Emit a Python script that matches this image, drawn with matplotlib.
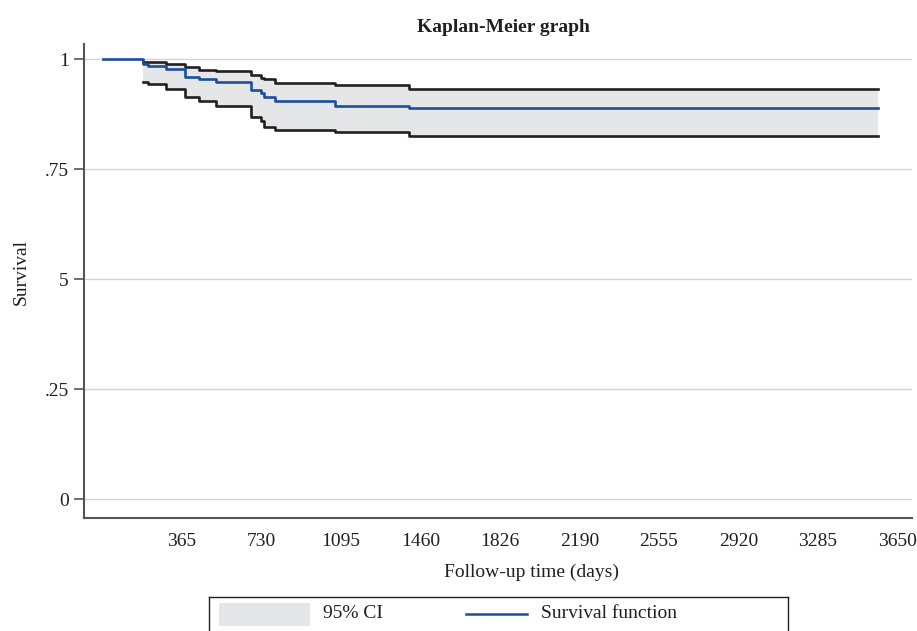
import numpy as np
import matplotlib
matplotlib.use("Agg")
from matplotlib import pyplot as plt
from matplotlib.patches import Rectangle
from matplotlib.lines import Line2D

# Kaplan-Meier estimate (days, survival after each step)
times = [0, 185, 210, 292, 379, 443, 521, 681, 727, 742, 792, 1068, 1409, 3562]
survival = [1.0, 0.989, 0.985, 0.978, 0.959, 0.955, 0.949, 0.930, 0.923, 0.914, 0.906, 0.895, 0.890, 0.890]
ci_times = [185, 210, 292, 379, 443, 521, 681, 727, 742, 792, 1068, 1409, 3562]
ci_upper = [0.995, 0.995, 0.989, 0.983, 0.977, 0.973, 0.964, 0.958, 0.955, 0.947, 0.942, 0.932, 0.932]
ci_lower = [0.949, 0.943, 0.932, 0.915, 0.906, 0.895, 0.868, 0.860, 0.846, 0.839, 0.835, 0.826, 0.826]

xticks = [365, 730, 1095, 1460, 1826, 2190, 2555, 2920, 3285, 3650]
yticks = [0, 0.25, 0.5, 0.75, 1]
ytick_labels = ["0", ".25", "5", ".75", "1"]

blue = "#1a4f9e"
ci_fill = "#e5e6e8"
dark = "#231f20"

plt.rcParams["font.family"] = ["Liberation Serif", "DejaVu Serif"]

fig = plt.figure(figsize=(9.17, 6.31), dpi=100)
W, H = 917, 631
ax = fig.add_axes([84 / W, 1 - 518 / H, 828 / W, 474 / H])

ax.fill_between(ci_times, ci_lower, ci_upper, step="post", color=ci_fill, lw=0, zorder=1)
ax.step(ci_times, ci_upper, where="post", color=dark, lw=1.9, zorder=2)
ax.step(ci_times, ci_lower, where="post", color=dark, lw=1.9, zorder=2)
ax.step(times, survival, where="post", color=blue, lw=1.9, zorder=3)

ax.set_xlim(-85, 3718)
ax.set_ylim(-0.0425, 1.035)
ax.set_xticks(xticks)
ax.set_xticklabels([str(t) for t in xticks])
ax.set_yticks(yticks)
ax.set_yticklabels(ytick_labels)
ax.tick_params(axis="x", length=0, pad=11, labelsize=14, colors=dark)
ax.tick_params(axis="y", length=7, width=1.2, pad=4, labelsize=14, color="#555555", labelcolor=dark)
ax.grid(axis="y", color="#d4d4d4", lw=1)
ax.set_axisbelow(True)
for s in ["top", "right"]:
    ax.spines[s].set_visible(False)
for s in ["left", "bottom"]:
    ax.spines[s].set_color("#555555")
    ax.spines[s].set_linewidth(1.5)

ax.set_title("Kaplan-Meier graph", fontsize=14, fontweight="bold", color=dark, pad=9, x=0.507)
ax.set_xlabel("Follow-up time (days)", fontsize=14, color=dark)
ax.xaxis.set_label_coords(0.54, -0.097)
ax.set_ylabel("Survival", fontsize=14, color=dark)
ax.yaxis.set_label_coords(-0.066, 0.52)

# legend box (Stata style, runs past the bottom edge)
lax = fig.add_axes([209 / W, 1 - 640 / H, 579 / W, 43 / H])
lax.set_xlim(0, 579)
lax.set_ylim(43, 0)
lax.set_xticks([])
lax.set_yticks([])
for s in lax.spines.values():
    s.set_color(dark)
    s.set_linewidth(1)
lax.add_patch(Rectangle((10, 6), 91, 23, color=ci_fill, lw=0))
lax.text(114, 17, "95% CI", fontsize=14, va="center", color=dark)
lax.add_line(Line2D([257, 318], [16.5, 16.5], color=blue, lw=1.8))
lax.text(332, 17, "Survival function", fontsize=14, va="center", color=dark)

plt.savefig("out.png", dpi=100)
plt.close()
